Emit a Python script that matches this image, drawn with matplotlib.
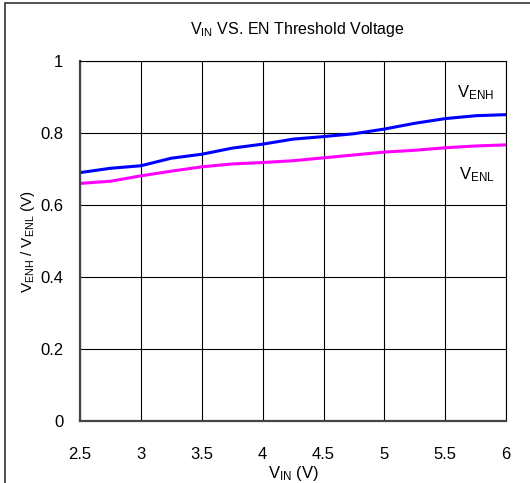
import matplotlib
matplotlib.use('Agg')
import matplotlib.pyplot as plt
from matplotlib.patches import Rectangle

plt.rcParams['font.family'] = ['Liberation Sans', 'DejaVu Sans']
plt.rcParams['mathtext.fontset'] = 'custom'
plt.rcParams['mathtext.rm'] = 'Liberation Sans'

# input voltage (V)
vin = [2.5, 2.75, 3.0, 3.25, 3.5, 3.75, 4.0, 4.25, 4.5, 4.75, 5.0, 5.25, 5.5, 5.75, 6.0]
# enable high / low thresholds (V)
venh = [0.690, 0.702, 0.709, 0.730, 0.741, 0.758, 0.769, 0.783, 0.790, 0.798, 0.811, 0.827, 0.840, 0.848, 0.851]
venl = [0.660, 0.666, 0.681, 0.694, 0.706, 0.714, 0.718, 0.723, 0.731, 0.739, 0.747, 0.752, 0.759, 0.764, 0.767]

xticks = [2.5, 3, 3.5, 4, 4.5, 5, 5.5, 6]
yticks = [0, 0.2, 0.4, 0.6, 0.8, 1]

fig = plt.figure(figsize=(5.30, 4.83), dpi=100)
ax = fig.add_axes([0.151, 0.1284, 0.804, 0.7453])

ax.plot(vin, venh, color='#0000ff', lw=2.2)
ax.plot(vin, venl, color='#ff00ff', lw=2.2)

ax.set_xlim(2.5, 6)
ax.set_ylim(0, 1)
ax.set_xticks(xticks)
ax.set_xticklabels(['2.5', '3', '3.5', '4', '4.5', '5', '5.5', '6'])
ax.set_yticks(yticks)
ax.set_yticklabels(['0', '0.2', '0.4', '0.6', '0.8', '1'])
ax.grid(True, color='black', lw=0.8)
ax.tick_params(axis='x', length=0, pad=19, labelsize=12)
ax.tick_params(axis='y', length=0, pad=12, labelsize=12)

for s in ['top', 'right']:
    ax.spines[s].set_color('black')
    ax.spines[s].set_linewidth(0.8)
for s in ['left', 'bottom']:
    ax.spines[s].set_color('#444444')
    ax.spines[s].set_linewidth(1.6)

ax.text(5.75, 0.912, r'$\mathregular{V_{ENH}}$', fontsize=12, ha='center', va='center')
ax.text(5.76, 0.685, r'$\mathregular{V_{ENL}}$', fontsize=12, ha='center', va='center')

fig.text(0.562, 0.938, r'$\mathregular{V_{IN}}$ VS. EN Threshold Voltage', fontsize=11.5,
         ha='center', va='center')
ax.set_xlabel(r'$\mathregular{V_{IN}}$ (V)', fontsize=12, labelpad=1)
ax.set_ylabel(r'$\mathregular{V_{ENH}}$ / $\mathregular{V_{ENL}}$ (V)', fontsize=11, labelpad=2)

# outer frame, running off the right and bottom edges
fig.add_artist(Rectangle((0.0094, -0.1), 1.5, 1.0938, transform=fig.transFigure,
                         fill=False, edgecolor='#333333', lw=1.2))

fig.savefig('out.png', dpi=100)
